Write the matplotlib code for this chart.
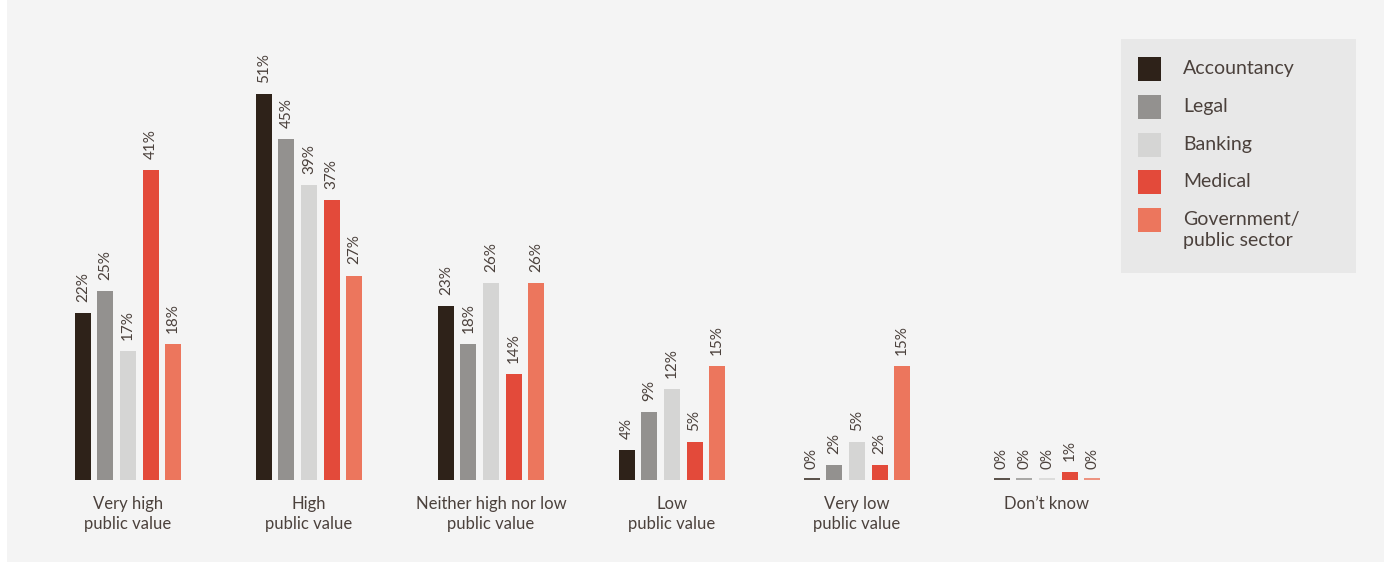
import matplotlib.pyplot as plt
from matplotlib.patches import Rectangle
import numpy as np

plt.rcParams['font.family'] = ['Lato', 'DejaVu Sans']

# data
categories = ['Very high\npublic value', 'High\npublic value', 'Neither high nor low\npublic value',
              'Low\npublic value', 'Very low\npublic value', 'Don\u2019t know']
series = ['Accountancy', 'Legal', 'Banking', 'Medical', 'Government/\npublic sector']
accountancy = [22, 51, 23, 4, 0, 0]
legal = [25, 45, 18, 9, 2, 0]
banking = [17, 39, 26, 12, 5, 0]
medical = [41, 37, 14, 5, 2, 1]
government = [18, 27, 26, 15, 15, 0]

colors = ['#2e2219', '#93918f', '#d5d5d4', '#e34a3a', '#ec765d']
bg = '#f4f4f4'
txt = '#4b413c'

W, H = 1384, 562
fig = plt.figure(figsize=(W / 100, H / 100), dpi=100, facecolor=bg)
# white strip on the left edge
fig.patches.append(Rectangle((0, 0), 7 / W, 1, transform=fig.transFigure,
                             facecolor='white', edgecolor='none', zorder=0))

# axes in pixel units along x; baseline at y=480, 7.57 px per %
base_px = 480
px_per_pct = 7.57
ymax = 60
ax = fig.add_axes([0, 1 - base_px / H, 1, px_per_pct * ymax / H])
ax.set_facecolor('none')
ax.set_xlim(0, W)
ax.set_ylim(0, ymax)

# group centres (layout, in pixels) - spacing in the original is uneven
group_x = np.array([128, 309, 491, 672, 857, 1047])
pitch = 22.6
width = 16
all_vals = [accountancy, legal, banking, medical, government]

for i, (vals, c) in enumerate(zip(all_vals, colors)):
    pos = group_x + (i - 2) * pitch
    ax.bar(pos, vals, width=width, color=c, linewidth=0)
    ax.hlines([0.12] * len(pos), pos - width / 2, pos + width / 2, colors=c, linewidth=1.1)
    for xp, v in zip(pos, vals):
        ax.annotate(f'{v}%', (xp, v), xytext=(0, 8), textcoords='offset points',
                    rotation=90, ha='center', va='bottom', fontsize=11, color=txt)

for xp, lab in zip(group_x, categories):
    ax.text(xp, -2.1, lab, ha='center', va='top', fontsize=12, color=txt,
            linespacing=1.35)

ax.axis('off')

# legend box drawn by hand
lx0, ly0, lx1, ly1 = 1121, 39, 1356, 273
fig.patches.append(Rectangle((lx0 / W, 1 - ly1 / H), (lx1 - lx0) / W, (ly1 - ly0) / H,
                             transform=fig.transFigure, facecolor='#e8e8e8', edgecolor='none'))
row_y = [69, 107, 145, 182, 220]
for lab, c, yy in zip(series, colors, row_y):
    fig.patches.append(Rectangle((1138 / W, 1 - (yy + 11.5) / H), 23 / W, 23 / H,
                                 transform=fig.transFigure, facecolor=c, edgecolor='none'))
    fig.text(1183 / W, 1 - (yy - 9) / H, lab, ha='left', va='top', fontsize=14,
             color=txt, linespacing=1.3)

fig.savefig('out.png', dpi=100, facecolor=bg)
